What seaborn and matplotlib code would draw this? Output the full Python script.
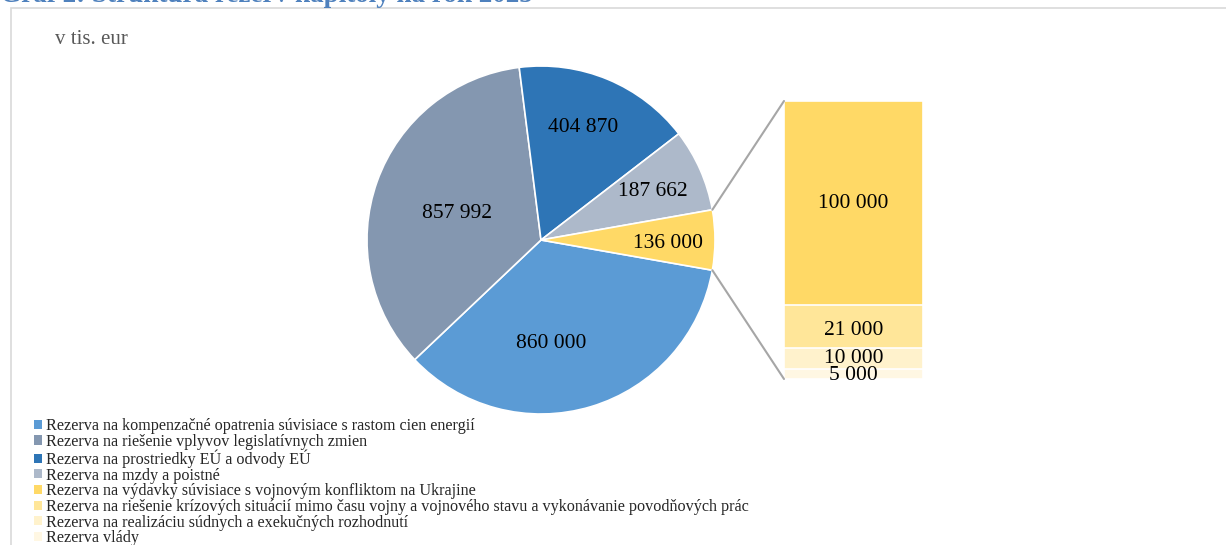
import matplotlib
matplotlib.use("Agg")
import matplotlib.pyplot as plt
from matplotlib.patches import Patch, Rectangle
from matplotlib.lines import Line2D
import seaborn as sns
import pandas as pd
import numpy as np

# ---------------- data ----------------
main_labels = [
    "Rezerva na kompenzačné opatrenia súvisiace s rastom cien energií",
    "Rezerva na riešenie vplyvov legislatívnych zmien",
    "Rezerva na prostriedky EÚ a odvody EÚ",
    "Rezerva na mzdy a poistné",
]
main_values = [860000, 857992, 404870, 187662]

sub_labels = [
    "Rezerva na výdavky súvisiace s vojnovým konfliktom na Ukrajine",
    "Rezerva na riešenie krízových situácií mimo času vojny a vojnového stavu a vykonávanie povodňových prác",
    "Rezerva na realizáciu súdnych a exekučných rozhodnutí",
    "Rezerva vlády",
]
sub_values = [100000, 21000, 10000, 5000]

main_colors = ["#5B9BD5", "#8497B0", "#2E75B6", "#ADB9CA"]
sub_colors = ["#FFD966", "#FFE699", "#FFF2CC", "#FFF7E3"]

def fmt(v):
    return f"{v:,}".replace(",", " ")

# ---------------- style ----------------
sns.set_theme(style="white")
plt.rcParams["font.family"] = ["Liberation Serif", "DejaVu Serif"]

W, H = 1226, 545
fig = plt.figure(figsize=(W / 100, H / 100), dpi=100)

def fr(x0, y0, x1, y1):
    return [x0 / W, 1 - y1 / H, (x1 - x0) / W, (y1 - y0) / H]

# chart frame
fig.patches.append(Rectangle((11 / W, -0.05), 1.2, 1 - 8 / H + 0.05,
                             transform=fig.transFigure, fill=False,
                             edgecolor="#D9D9D9", linewidth=1.2))

# cut-off title
fig.text(0 / W, 1 - 2 / H, "Graf 2: Štruktúra rezerv kapitoly na rok 2025",
         color="#4F81BD", fontsize=19.5, fontweight="bold", va="baseline", ha="left")

fig.text(55 / W, 1 - 40 / H, "v tis. eur", color="#595959", fontsize=15,
         va="center", ha="left")

# ---------------- main pie ----------------
cx, cy, R = 541, 240, 174
ax = fig.add_axes(fr(cx - R, cy - R, cx + R, cy + R))
pie_vals = main_values + [sum(sub_values)]
pie_cols = main_colors + [sub_colors[0]]
other_frac = sum(sub_values) / sum(pie_vals)
start = -other_frac * 360 / 2
wedges, _ = ax.pie(pie_vals, colors=pie_cols, startangle=start, counterclock=False,
                   radius=1, wedgeprops=dict(edgecolor="white", linewidth=1.2))
ax.set_xlim(-1, 1)
ax.set_ylim(-1, 1)
ax.set_aspect("equal")
ax.axis("off")

# label positions (pixel positions in the reference, layout only)
label_px = [(551, 343), (457, 213), (583, 127), (653, 192), (668, 243)]
for (px, py), v in zip(label_px, pie_vals):
    ax.text((px - cx) / R, (cy - py) / R, fmt(v), ha="center", va="center",
            fontsize=15.5, color="black")

# ---------------- stacked bar ----------------
bx0, by0, bx1, by1 = 784, 101, 923, 379
bax = fig.add_axes(fr(bx0, by0, bx1, by1))
# stack bottom-to-top: last item at bottom
order = list(range(len(sub_values)))[::-1]
cum = np.cumsum([sub_values[i] for i in order])
bottoms = np.concatenate([[0], cum[:-1]])
for k in range(len(order) - 1, -1, -1):
    i = order[k]
    df = pd.DataFrame({"x": ["a"], "y": [cum[k]]})
    sns.barplot(data=df, x="x", y="y", ax=bax, color=sub_colors[i], width=1.0,
                saturation=1, edgecolor="white", linewidth=1.2)
label_shift = [-1.5, 0, -4, 0]  # small vertical nudges (px) for readability
for k, i in enumerate(order):
    yv = bottoms[k] + sub_values[i] / 2 + label_shift[k] * sum(sub_values) / (by1 - by0)
    bax.text(0, yv, fmt(sub_values[i]), ha="center",
             va="center", fontsize=15.5, color="black")
bax.set_xlim(-0.5, 0.5)
bax.set_ylim(0, sum(sub_values))
bax.axis("off")

# connector lines
top_w = wedges[-1]
for ang, by in [(top_w.theta2, by0), (top_w.theta1, by1)]:
    a = np.deg2rad(ang)
    px = cx + R * np.cos(a)
    py = cy - R * np.sin(a)
    fig.add_artist(Line2D([px / W, bx0 / W], [1 - py / H, 1 - by / H],
                          transform=fig.transFigure, color="#A6A6A6", linewidth=1.5))

# ---------------- legend ----------------
handles = [Patch(facecolor=c, edgecolor="none") for c in main_colors + sub_colors]
labels = main_labels + sub_labels
fig.legend(handles, labels, loc="upper left", bbox_to_anchor=(34 / W, 1 - 418 / H),
           frameon=False, fontsize=11.6, handlelength=0.5, handleheight=0.5,
           handletextpad=0.25, labelspacing=-0.02, borderpad=0, borderaxespad=0)

fig.savefig("out.png", dpi=100)
